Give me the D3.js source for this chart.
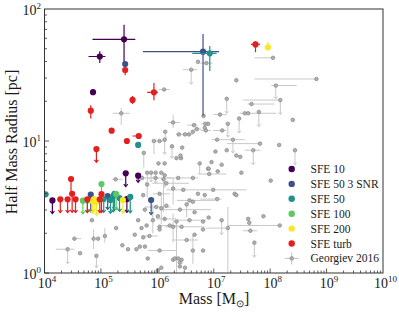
<!DOCTYPE html>
<html><head><meta charset="utf-8">
<script src="https://cdn.jsdelivr.net/npm/d3@7"></script>
<style>
body{margin:0;background:#fff}
</style></head>
<body><svg id="c" width="399" height="314"></svg>
<script>
// all values are log10(mass / Msun) and log10(radius / pc)
// point format: [logM, logR, errLeft, errRight, errDown, errUp, upperLimitArrow]
const seriesNames = ["SFE 10","SFE 50 3 SNR","SFE 50","SFE 100","SFE 200","SFE turb"];
const seriesColors = ["#440154","#3b528b","#21918c","#5ec962","#fde725","#e3201f"];
const sfe10 = [
  [5.41,1.77,0.56,0.20,0.19,0.11,0],
  [4.98,1.64,0.20,0.10,0.05,0.04,0],
  [4.86,1.37,0.04,0.04,0.02,0.02,0],
  [4.14,0.55,0,0,0.10,0,1],
  [5.44,0.755,0,0,0.10,0,1],
  [5.66,0.737,0,0,0.05,0,1],
  [5.46,0.56,0,0,0.10,0,1]
];
const sfe50snr = [
  [6.81,1.677,1.065,0.284,0.485,0.134,0],
  [5.43,1.583,0,0,0,0,0],
  [4.82,0.593,0,0,0.13,0,1],
  [5.89,0.553,0,0,0.11,0,1],
  [5.12,0.583,0,0,0.10,0,1]
];
const sfe50 = [
  [6.93,1.664,0.31,0.12,0.134,0.056,0],
  [5.66,0.97,0,0,0,0,0],
  [4.02,0.596,0,0,0,0,0],
  [5.22,0.583,0,0,0.12,0,1],
  [5.52,0.576,0,0,0.12,0,1],
  [5.17,0.553,0,0,0.10,0,1],
  [5.24,0.60,0,0,0.12,0,1],
  [5.33,0.568,0,0,0.10,0,1],
  [5.05,0.56,0,0,0.10,0,1]
];
const sfe100 = [
  [4.68,0.548,0,0,0.10,0,1],
  [5.01,0.674,0,0,0.11,0,1],
  [5.27,0.598,0,0,0.12,0,1],
  [4.76,0.55,0,0,0.09,0,1]
];
const sfe200 = [
  [7.96,1.71,0,0,0,0.04,0],
  [4.85,0.545,0,0,0.09,0,1],
  [4.92,0.538,0,0,0.10,0,1],
  [5.39,0.553,0,0,0.10,0,1],
  [4.88,0.56,0,0,0.09,0,1]
];
const sfeTurb = [
  [5.43,1.538,0,0,0.04,0,0],
  [5.56,1.311,0,0,0.03,0.03,0],
  [5.94,1.369,0.12,0.07,0.06,0.07,0],
  [4.82,1.23,0,0,0.06,0.04,0],
  [5.19,1.078,0,0,0,0,0],
  [5.46,1.00,0,0,0,0,0],
  [5.67,1.038,0.11,0.05,0,0,0],
  [4.92,0.939,0,0,0.10,0,1],
  [7.74,1.732,0.08,0.08,0.06,0.023,0],
  [4.28,0.558,0,0,0.10,0,1],
  [4.41,0.558,0,0,0.10,0,1],
  [4.55,0.558,0,0,0.10,0,1],
  [4.47,0.712,0,0,0.11,0,0],
  [4.49,0.60,0,0,0.14,0,1],
  [4.76,0.558,0,0,0.10,0,1],
  [5.01,0.598,0,0,0.14,0,1],
  [4.98,0.558,0,0,0.10,0,1]
];
const georgiev = [
[6.60,1.54,0.15,0.11,0.11,0,1],[6.72,1.60,0,0,0,0,0],[6.12,1.39,0.09,0.10,0,0,0],
[5.36,1.21,0.15,0.15,0.09,0.04,0],[6.28,1.14,0.09,0.12,0.04,0.06,0],[6.38,1.05,0.05,0.25,0,0,0],
[6.49,1.05,0,0,0,0,0],[6.56,1.05,0,0,0,0,0],[6.63,1.07,0,0,0,0,0],[6.70,1.09,0.05,0.08,0,0,0],
[5.94,1.00,0.04,0.20,0.10,0,0],[6.04,1.00,0,0,0,0,0],[6.14,1.07,0,0,0.06,0,1],
[6.13,1.01,0,0,0.11,0,1],[6.26,0.96,0,0,0.09,0,1],[6.44,0.95,0,0,0,0,0],
[5.76,0.91,0,0,0.11,0,0],[6.34,0.87,0,0,0,0,0],[6.42,0.87,0,0,0,0,0],
[6.65,1.12,0.12,0.06,0,0,0],[6.84,1.10,0,0,0,0,0],[6.90,1.13,0,0,0,0,0],
[6.41,0.89,0,0,0,0,0],[6.02,0.83,0,0,0,0,0],[6.13,0.83,0,0,0,0,0],
[6.75,0.83,0,0,0.08,0,0],[6.90,0.79,0,0,0,0,0],[5.82,0.76,0,0,0.09,0,1],
[5.89,0.76,0,0,0.07,0,1],[5.97,0.76,0,0,0.08,0,1],[6.07,0.76,0,0,0,0,0],
[6.13,0.74,0,0,0.09,0,1],[6.87,1.59,0.12,0.11,0,0,0],[8.05,1.63,0.33,0,0,0,0],
[7.40,1.46,0,0,0,0,0],[8.82,1.47,1.10,0,0,0,0],[8.10,1.42,0.08,0.37,0.10,0,1],
[7.23,1.32,0,0,0.11,0,1],[8.18,1.31,0.66,0,0.11,0,1],[7.67,1.28,0.07,0.41,0,0,0],
[6.82,1.19,0,0,0,0,0],[7.11,1.20,0.12,0.12,0,0,0],[7.55,1.21,0,0,0,0,0],
[7.61,1.21,0.15,0.50,0,0,0],[7.80,1.22,0,0,0.11,0,1],[8.40,1.16,0,0,0,0,0],
[7.45,1.17,0,0,0.11,0,1],[6.85,1.13,0.08,0.08,0.04,0,0],[7.25,1.13,0,0,0.10,0,1],
[6.86,1.08,0.09,0.09,0,0,0],[7.15,1.08,0.16,0.08,0,0,0],[7.06,1.01,0,0,0,0,0],
[7.34,1.01,0.38,0.21,0.10,0,1],[7.82,0.98,0.59,0,0,0,0],[8.16,0.97,0,0,0,0,0],
[7.03,0.92,0,0,0,0,0],[7.23,0.93,0,0,0,0,0],[7.70,0.93,0.15,0.12,0.11,0,1],
[8.44,0.93,0,0,0.11,0,1],[7.40,0.89,0,0,0,0,0],[7.47,0.88,0,0,0,0,0],
[8.01,0.70,0,0,0,0,0],[7.49,0.76,0,0,0,0,0],[7.14,0.82,0,0,0,0,0],
[6.92,0.75,0.20,0.30,0,0,0],[7.37,0.60,0,0,0,0,0],[6.99,0.63,0,0.59,0,0,0],
[7.61,0.41,0,0,0,0,0],[7.63,0.38,0,0,0,0,0],[8.17,0.36,0.92,0,0,0,0],
[7.14,0.40,0,0,0.11,0,1],[7.25,0.34,0.39,0,0.34,0.16,0],[7.65,0.32,0.13,0.12,0,0,0],
[7.72,0.23,0,0,0.11,0,1],[7.40,0.59,0,0,0,0,0],[7.06,0.56,0.30,0.08,0,0,0],
[7.88,0.43,0,0,0,0,0],[6.91,0.42,0,0,0,0,0],[6.96,0.84,0,0,0,0,0],
[6.91,0.79,0,0,0,0,0],[7.07,0.77,0,0,0,0,0],
[5.26,0.71,0.06,0.12,0,0,0],[5.27,0.34,0,0,0,0,0],[4.53,0.26,0.04,0.12,0,0,0],
[4.87,0.26,0,0,0.08,0.07,0],[4.95,0.26,0,0,0,0,0],[5.07,0.28,0,0,0.05,0.06,0],
[4.41,0.18,0.21,0.12,0.11,0,1],[4.63,0.15,0,0,0,0,0],[5.38,0.21,0,0,0,0,0],
[5.48,0.18,0,0,0,0,0],[5.63,0.18,0,0,0,0,0],[5.69,0.20,0,0,0,0,0],
[4.92,0.13,0,0,0.09,0,1],[5.60,0.29,0,0,0,0,0],[5.75,0.27,0,0,0,0,0],
[5.66,0.40,0,0,0,0,0],[4.84,0.40,0,0,0,0,0],[6.28,0.10,0,0,0,0,0],[6.40,0.08,0,0,0,0,0],
[5.73,0.72,0.10,0.20,0,0,0],[5.97,0.72,0.15,0.30,0,0,0],[6.11,0.71,0,0,0.25,0.05,0],
[6.37,0.72,0.20,0.35,0,0,0],[6.63,0.72,0,0,0,0,0],[5.82,0.67,0,0,0.10,0,0],
[6.16,0.68,0.25,0.40,0,0,0],[6.28,0.64,0,0,0.12,0.08,0],[6.46,0.63,0.30,0.50,0,0,0],
[6.72,0.60,0,0,0,0,0],[6.04,0.60,0.12,0.18,0,0,0],[5.75,0.59,0,0,0,0,0],
[6.84,0.59,0,0,0,0,0],[6.57,0.55,0.22,0.45,0,0,0],[6.63,0.54,0,0,0,0,0],
[6.52,0.52,0,0,0.10,0,0],[5.98,0.50,0.20,0.25,0,0,0],[6.07,0.49,0,0,0.12,0.10,0],
[6.16,0.51,0,0,0,0,0],[6.40,0.48,0.35,0.55,0,0,0],[6.66,0.46,0,0,0,0,0],
[5.78,0.48,0,0,0,0,0],[6.01,0.43,0,0,0,0,0],[6.13,0.41,0.15,0.20,0,0,0],
[5.92,0.40,0,0,0.10,0.12,0],[6.34,0.39,0,0,0.39,0,0],[6.57,0.40,0.25,0.30,0,0,0],
[6.81,0.39,0,0,0,0,0],[6.22,0.36,0.20,0.15,0,0,0],[6.43,0.35,0.30,0.40,0,0,0],
[5.81,0.36,0,0,0,0,0],[6.04,0.35,0,0,0,0,0],[5.72,0.34,0,0,0,0,0],
[5.86,0.28,0.12,0.15,0,0,0],[6.04,0.33,0,0,0,0,0],[6.28,0.35,0,0,0.12,0.10,0],
[6.52,0.25,0.25,0.20,0,0,0],[6.81,0.33,0,0,0,0,0],[6.66,0.29,0,0,0,0,0],
[5.78,0.20,0,0,0,0,0],[6.04,0.17,0.20,0.30,0,0,0],[6.31,0.11,0,0,0,0,0],
[6.37,0.11,0,0,0,0,0],[6.43,0.10,0,0,0,0,0],[6.63,0.17,0,0,0.10,0.12,0],
[6.81,0.17,0,0,0,0,0],[5.83,0.11,0,0,0,0,0],[6.07,0.04,0,0,0,0,0],
[6.40,0.05,0,0,0,0,0],[6.49,0.04,0,0,0,0,0],[6.01,0.02,0,0,0,0,0]
];
const xTickExps = [4,5,6,7,8,9,10];
const yTickExps = [0,1,2];
const xLabel = "Mass [M";
const yLabel = "Half Mass Radius [pc]";
const legendGeorgiev = "Georgiev 2016";

const FONT = "Liberation Serif";
const p10 = v => Math.pow(10, v);
const svg = d3.select("#c");
const L = 44.5, R = 383, T = 9, B = 273;
const x = d3.scaleLog().domain([1e4, 1e10]).range([L, R]);
const y = d3.scaleLog().domain([1, 100]).range([B, T]);

function txt(parent, size) {
  return parent.append("text").attr("font-family", FONT).attr("font-size", size).attr("fill", "#1a1a1a");
}

svg.append("defs").append("clipPath").attr("id","cp")
  .append("rect").attr("x",L).attr("y",T).attr("width",R-L).attr("height",B-T);
const plot = svg.append("g").attr("clip-path","url(#cp)");

function drawPoints(g, data, color, barColor, r, sw, edge, ah) {
  data.forEach(d => {
    const [m, rr, el, er, ed, eu, lim] = d;
    const cx = x(p10(m)), cy = y(p10(rr));
    if (el || er) g.append("line").attr("x1", x(p10(m - el))).attr("x2", x(p10(m + er)))
      .attr("y1", cy).attr("y2", cy).attr("stroke", barColor).attr("stroke-width", sw);
    if (ed || eu) {
      const yb = y(p10(rr - ed));
      g.append("line").attr("x1", cx).attr("x2", cx).attr("y1", y(p10(rr + eu))).attr("y2", yb)
        .attr("stroke", barColor).attr("stroke-width", sw);
      if (lim) g.append("path").attr("d", `M${cx-ah},${yb-ah*1.2}L${cx},${yb}L${cx+ah},${yb-ah*1.2}`)
        .attr("fill","none").attr("stroke", barColor).attr("stroke-width", sw);
    }
  });
  data.forEach(d => {
    g.append("circle").attr("cx", x(p10(d[0]))).attr("cy", y(p10(d[1]))).attr("r", r)
      .attr("fill", color).attr("stroke", edge || color).attr("stroke-width", edge ? 0.7 : 0);
  });
}

drawPoints(plot.append("g"), georgiev, "#b0b0b0", "#c8c8c8", 1.8, 1.0, "#858585", 1.8);

const allSeries = [sfe10, sfe50snr, sfe50, sfe100, sfe200, sfeTurb];
allSeries.forEach((s, i) => {
  drawPoints(plot.append("g"), s, seriesColors[i], seriesColors[i], 3.1, 1.2, null, 2.0);
});

// frame
svg.append("rect").attr("x",L).attr("y",T).attr("width",R-L).attr("height",B-T)
  .attr("fill","none").attr("stroke","#333").attr("stroke-width",1);

// ticks (inward, left & bottom)
const tg = svg.append("g").attr("stroke","#333").attr("stroke-width",0.8);
for (let e = 4; e < 10; e++) for (let k = 1; k < 10; k++) {
  const xv = x(k * p10(e));
  tg.append("line").attr("x1",xv).attr("x2",xv).attr("y1",B).attr("y2",B-(k===1?4.5:2.5));
}
for (let e = 0; e < 2; e++) for (let k = 1; k < 10; k++) {
  const yv = y(k * p10(e));
  tg.append("line").attr("x1",L).attr("x2",L+(k===1?4.5:2.5)).attr("y1",yv).attr("y2",yv);
}

function powLabel(sel, exp) {
  sel.append("tspan").text("10");
  sel.append("tspan").attr("dy",-6).attr("font-size",9).text(String(exp));
}
xTickExps.forEach(e => {
  const t = txt(svg, 14).attr("x", x(p10(e)) + 2.5).attr("y", 288).attr("text-anchor","middle");
  powLabel(t, e);
});
yTickExps.forEach(e => {
  const t = txt(svg, 14).attr("x", 41).attr("y", y(p10(e)) + 5.5).attr("text-anchor","end");
  powLabel(t, e);
});

// axis labels
const xl = txt(svg, 16).attr("x", 214).attr("y", 304).attr("text-anchor","middle");
xl.append("tspan").text(xLabel);
xl.append("tspan").attr("dy",3).attr("font-size",10).text("\u2299");
xl.append("tspan").attr("dy",-3).text("]");
txt(svg, 16).attr("transform","translate(17,142) rotate(-90)").attr("text-anchor","middle").text(yLabel);

// legend
const lg = svg.append("g");
const lx = 291.7, ly0 = 169, dy = 14.9;
seriesNames.forEach((n, i) => {
  const yy = ly0 + i * dy;
  lg.append("circle").attr("cx", lx).attr("cy", yy).attr("r", 3.2).attr("fill", seriesColors[i]);
  txt(lg, 11.5).attr("x", 310.5).attr("y", yy + 4).text(n);
});
{
  const yy = ly0 + 6 * dy;
  lg.append("line").attr("x1",lx-7).attr("x2",lx+7).attr("y1",yy).attr("y2",yy).attr("stroke","#c8c8c8").attr("stroke-width",1.1);
  lg.append("line").attr("x1",lx).attr("x2",lx).attr("y1",yy-6).attr("y2",yy+6).attr("stroke","#c8c8c8").attr("stroke-width",1.1);
  lg.append("circle").attr("cx",lx).attr("cy",yy).attr("r",1.8).attr("fill","#b0b0b0").attr("stroke","#858585").attr("stroke-width",0.7);
  txt(lg, 11.5).attr("x", 310.5).attr("y", yy + 4).text(legendGeorgiev);
}
</script></body></html>
